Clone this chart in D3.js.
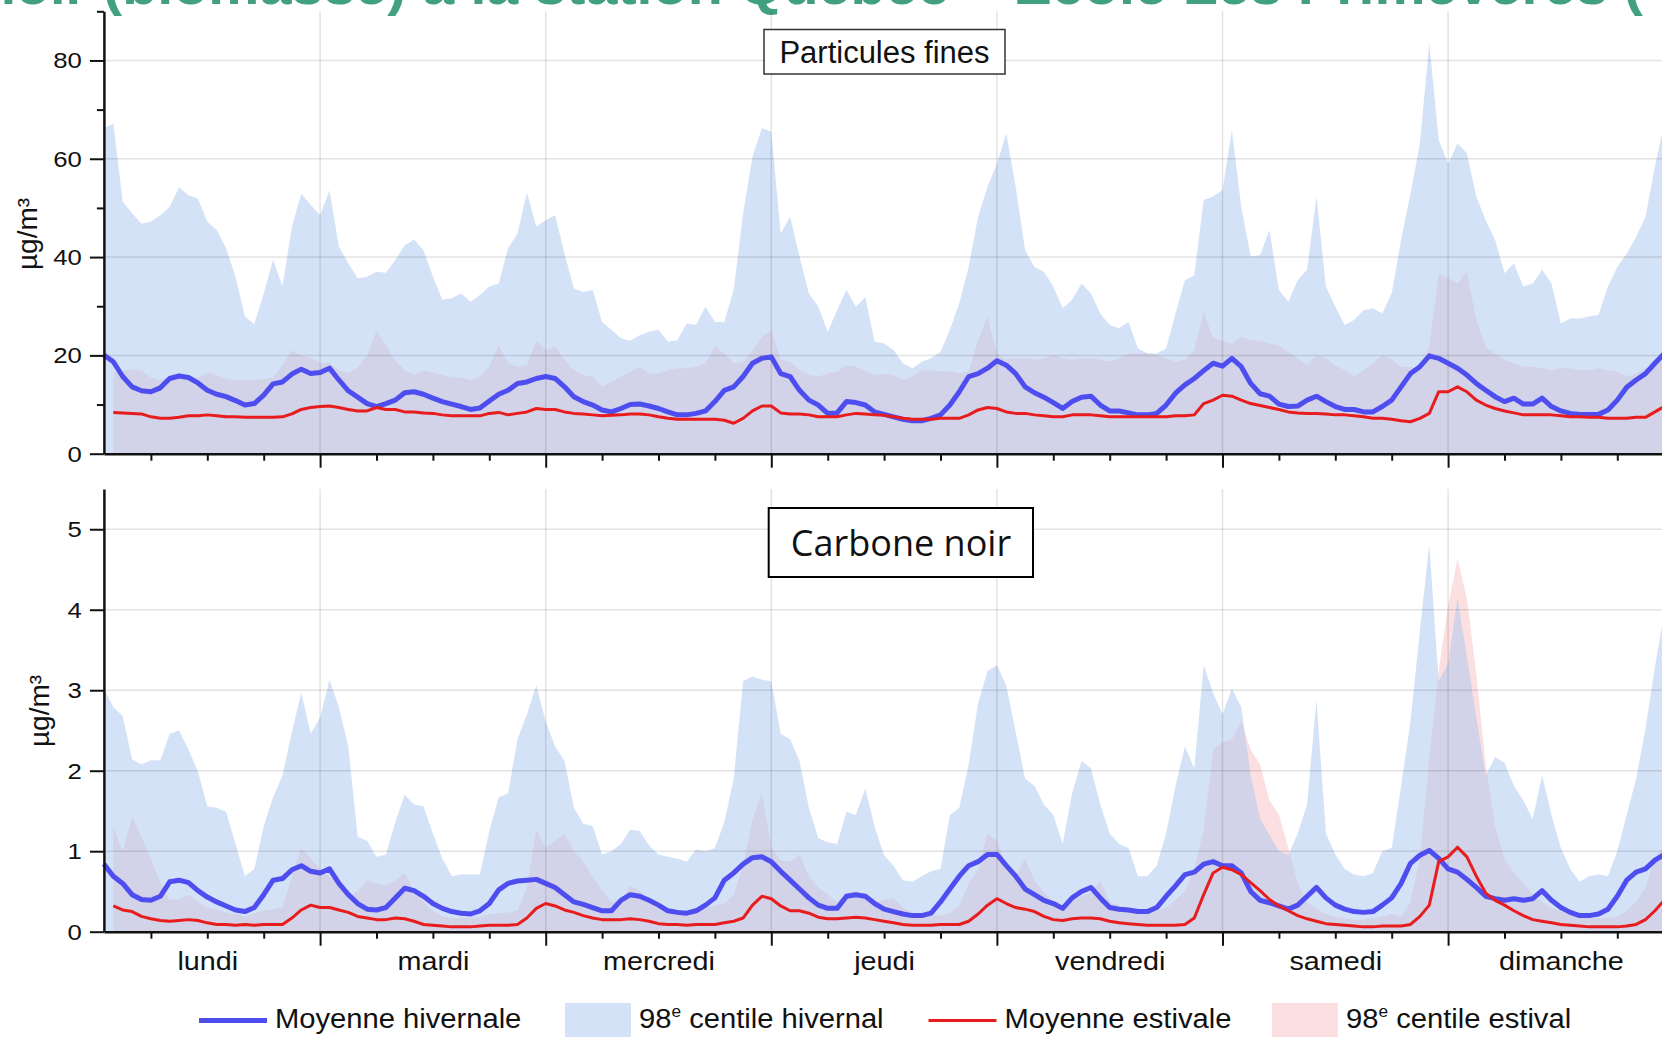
<!DOCTYPE html>
<html>
<head>
<meta charset="utf-8">
<script src="https://cdnjs.cloudflare.com/ajax/libs/d3/7.8.5/d3.min.js"></script>
<style>
  body { margin: 0; background: #fff; overflow: hidden; }
  svg { display: block; }
</style>
</head>
<body>
<script>
// hourly profile, hour 1 .. 167 of the week (monday 01h first)
var hours = d3.range(1, 168);
var days = ["lundi", "mardi", "mercredi", "jeudi", "vendredi", "samedi", "dimanche"];
var dayMid = [12, 36, 60, 84, 108, 132, 156];
var dayEdge = [24, 48, 72, 96, 120, 144, 168];

// Particules fines (µg/m3)
var pmHiv98 = [
  66.2, 67.2, 51.3, 48.9, 46.8, 47.2, 48.5, 50.2, 54.2, 52.6, 51.9, 47.2, 45.5, 41.8, 36, 27.9, 26.4, 32.6, 39.4, 34, 46.2, 52.9, 50.6, 48.5,
  53.6, 42.1, 38.7, 35.7, 36, 37, 36.8, 39.4, 42.4, 43.5, 41.4, 36, 31.3, 31.6, 32.6, 30.9, 32.3, 34, 34.6, 41.8, 44.8, 53.1, 46.2, 47.5,
  48.5, 40.7, 33.6, 32.9, 33.3, 26.8, 25.2, 23.5, 23, 24.1, 24.8, 25.2, 22.8, 23.1, 26.5, 26.2, 29.9, 26.8, 26.8, 33.3, 48.9, 60.4, 66.2, 65.5,
  44.8, 48.2, 40.1, 32.6, 29.9, 24.8, 29.2, 33.3, 29.9, 31.9, 22.8, 22.4, 21.1, 18.4, 17.4, 18.7, 19.4, 20.7, 25.2, 30.6, 38, 48.2, 54.3, 59,
  65.2, 54.3, 41.4, 38, 37, 34, 29.6, 31.3, 34.6, 32.6, 28.5, 26.2, 25.5, 26.8, 21.4, 20.4, 20.4, 21.4, 28.5, 35.3, 36.3, 51.6, 52.3, 53.6,
  65.8, 50.2, 40.1, 40.4, 45.5, 33.3, 30.9, 35.3, 37.4, 52.3, 34, 29.9, 26.2, 27.2, 29.2, 29.6, 28.5, 32.6, 43.5, 52.9, 63.1, 83.5, 63.8, 59,
  63.1, 61.1, 52.3, 47.5, 43.5, 36.7, 38.7, 34, 34.6, 37.4, 34.6, 26.5, 27.5, 27.5, 27.9, 28.2, 34, 38, 40.7, 44.1, 48.2, 58.4, 67.2
];
var pmHivMoy = [
  20.1, 18.7, 15.7, 13.6, 12.8, 12.6, 13.4, 15.3, 15.8, 15.5, 14.4, 12.9, 12.1, 11.6, 10.8, 9.9, 10.2, 11.9, 14.2, 14.6, 16.2, 17.2, 16.3, 16.5,
  17.4, 15, 12.8, 11.5, 10.2, 9.6, 10.2, 10.9, 12.4, 12.6, 12.1, 11.3, 10.6, 10.1, 9.6, 9, 9.3, 10.7, 12.1, 12.9, 14.3, 14.6, 15.3, 15.7,
  15.3, 13.6, 11.6, 10.6, 9.9, 8.9, 8.5, 9.2, 10, 10.1, 9.7, 9.2, 8.5, 7.9, 7.9, 8.2, 8.7, 10.6, 12.9, 13.6, 15.7, 18.4, 19.4, 19.7,
  16.3, 15.7, 12.9, 10.9, 9.9, 8.2, 8.3, 10.6, 10.4, 9.9, 8.5, 8, 7.5, 7, 6.7, 6.7, 7.2, 7.9, 9.9, 12.6, 15.7, 16.3, 17.4, 18.9,
  18, 16.3, 13.6, 12.4, 11.5, 10.4, 9.2, 10.6, 11.5, 11.7, 9.9, 8.7, 8.7, 8.3, 7.9, 7.9, 8.2, 9.9, 12.3, 14, 15.3, 16.9, 18.4, 17.8,
  19.4, 17.7, 14.3, 12.2, 11.7, 10.1, 9.6, 9.7, 10.9, 11.7, 10.6, 9.6, 9, 9, 8.5, 8.5, 9.6, 10.9, 13.6, 16.3, 17.7, 19.9, 19.4, 18.4,
  17.4, 16, 14.3, 12.9, 11.6, 10.6, 11.3, 10.1, 10.1, 11.3, 9.6, 8.7, 8.2, 8, 8, 8, 8.9, 10.9, 13.5, 15, 16.3, 18.4, 20.4
];
var pmEstMoy = [
  null, 8.4, 8.3, 8.2, 8.1, 7.5, 7.2, 7.2, 7.4, 7.7, 7.7, 7.9, 7.7, 7.5, 7.5, 7.4, 7.4, 7.4, 7.4, 7.5, 8.1, 9, 9.4, 9.6,
  9.7, 9.4, 9, 8.7, 8.7, 9.4, 9, 9, 8.5, 8.5, 8.3, 8.2, 7.9, 7.7, 7.7, 7.7, 7.7, 8.2, 8.4, 7.9, 8.2, 8.5, 9.2, 9,
  9, 8.5, 8.2, 8.1, 7.9, 7.7, 7.8, 7.9, 8.1, 8.1, 7.9, 7.5, 7.2, 7, 7, 7, 7, 7, 6.8, 6.2, 7.2, 8.7, 9.7, 9.7,
  8.3, 8.1, 8.1, 7.9, 7.5, 7.5, 7.5, 7.9, 8.2, 8.1, 7.9, 7.8, 7.5, 7.2, 7, 7, 7, 7.2, 7.2, 7.2, 7.9, 8.9, 9.4, 9.2,
  8.5, 8.2, 8.2, 7.9, 7.7, 7.5, 7.5, 7.9, 7.9, 7.9, 7.7, 7.5, 7.5, 7.5, 7.5, 7.5, 7.5, 7.5, 7.7, 7.7, 7.9, 10.2, 10.9, 11.9,
  11.7, 10.9, 10.2, 9.8, 9.4, 9, 8.5, 8.3, 8.2, 8.2, 8.1, 7.9, 7.9, 7.7, 7.5, 7.2, 7.2, 7, 6.7, 6.5, 7.2, 8.2, 12.6, 12.6,
  13.6, 12.6, 10.9, 9.9, 9.2, 8.7, 8.3, 7.9, 7.9, 7.9, 7.9, 7.7, 7.5, 7.5, 7.4, 7.4, 7.2, 7.2, 7.2, 7.4, 7.4, 8.5, 9.6
];
var pmEst98 = [
  null, 16.5, 16.8, 17.2, 17, 15.5, 15, 15.5, 15.3, 15, 15.5, 16.5, 16, 15.3, 15, 15, 15, 15.2, 15.5, 18, 21, 20, 19.5, 18.5,
  18.5, 17, 16.5, 17.5, 20, 25, 22, 19, 17, 16, 17, 16.5, 16, 15.5, 15.5, 15, 15.7, 17.7, 22.1, 18.4, 17.7, 18, 23.1, 21.1,
  21.8, 19.1, 17, 16, 15.7, 13.6, 14.6, 15.7, 16.7, 17.7, 16.3, 16.3, 17, 17.4, 17.4, 17.7, 18.4, 21.8, 20.4, 18.4, 18.7, 21.1, 23.8, 25.2,
  19.1, 18.7, 17, 16, 15.7, 16.3, 16.7, 18, 17.7, 16.7, 16, 16.2, 16, 15, 15.7, 17, 17, 16.7, 16.7, 16.3, 16.7, 23.1, 27.9, 20.4,
  19.1, 19.4, 19.4, 19.1, 19.4, 20.1, 19.4, 19.1, 19.4, 19.4, 19.1, 18.7, 19.4, 20.4, 20.4, 20.5, 20.1, 19.4, 18.7, 19.1, 21.1, 28.9, 23.5, 23.1,
  22.4, 23.8, 23.1, 23, 22.4, 22, 20.7, 19.4, 18, 20.1, 19.4, 18, 17, 15.7, 17, 18.4, 20.1, 19.1, 17.7, 17.7, 17, 21.8, 36.7, 35.7,
  34.6, 37, 27.2, 21.8, 20.4, 19.1, 18.4, 17.7, 17.7, 17.4, 17, 17.4, 17.4, 17, 17, 17.4, 17, 16.7, 15.7, 16.3, 17.4, 18.4, 19.1
];

// Carbone noir (µg/m3)
var bcHiv98 = [
  3.02, 2.79, 2.68, 2.14, 2.08, 2.13, 2.13, 2.46, 2.5, 2.26, 1.99, 1.56, 1.54, 1.49, 1.09, 0.69, 0.78, 1.31, 1.67, 1.94, 2.48, 2.97, 2.46, 2.66,
  3.13, 2.79, 2.3, 1.18, 1.13, 0.93, 0.96, 1.36, 1.7, 1.58, 1.56, 1.22, 0.91, 0.69, 0.71, 0.71, 0.71, 1.25, 1.67, 1.72, 2.39, 2.7, 3.06, 2.61,
  2.3, 2.12, 1.54, 1.34, 1.31, 0.96, 1, 1.09, 1.27, 1.25, 1.07, 0.96, 0.93, 0.91, 0.87, 1.02, 1, 1.04, 1.36, 1.9, 3.11, 3.17, 3.13, 3.11,
  2.46, 2.39, 2.12, 1.54, 1.16, 1.11, 1.09, 1.49, 1.45, 1.78, 1.3, 0.95, 0.82, 0.64, 0.62, 0.69, 0.75, 0.78, 1.45, 1.54, 2.08, 2.84, 3.24, 3.31,
  3.06, 2.48, 1.9, 1.81, 1.58, 1.45, 1.09, 1.72, 2.12, 2.03, 1.58, 1.22, 1.09, 1.04, 0.69, 0.69, 0.82, 1.22, 1.81, 2.3, 2.03, 3.31, 2.97, 2.7,
  3.02, 2.79, 1.94, 1.4, 1.2, 1, 0.95, 1.22, 1.58, 2.88, 1.22, 0.96, 0.78, 0.71, 0.69, 0.73, 1, 1.04, 1.81, 2.61, 3.74, 4.81, 3.11, 3.33,
  4.14, 3.42, 2.66, 1.94, 2.17, 2.1, 1.81, 1.63, 1.4, 1.94, 1.45, 1.04, 0.78, 0.62, 0.69, 0.71, 0.69, 1, 1.45, 1.9, 2.52, 3.29, 3.96
];
var bcHivMoy = [
  0.84, 0.69, 0.6, 0.46, 0.4, 0.39, 0.44, 0.62, 0.64, 0.61, 0.51, 0.43, 0.37, 0.32, 0.27, 0.25, 0.3, 0.46, 0.64, 0.66, 0.77, 0.82, 0.75, 0.73,
  0.78, 0.6, 0.46, 0.35, 0.28, 0.27, 0.3, 0.42, 0.54, 0.51, 0.44, 0.35, 0.29, 0.25, 0.23, 0.22, 0.26, 0.35, 0.52, 0.6, 0.63, 0.64, 0.65, 0.6,
  0.55, 0.46, 0.37, 0.34, 0.3, 0.26, 0.26, 0.39, 0.46, 0.44, 0.39, 0.33, 0.26, 0.24, 0.23, 0.26, 0.33, 0.42, 0.64, 0.73, 0.84, 0.92, 0.93, 0.87,
  0.75, 0.64, 0.53, 0.42, 0.33, 0.29, 0.29, 0.44, 0.46, 0.44, 0.35, 0.28, 0.25, 0.22, 0.2, 0.2, 0.23, 0.37, 0.53, 0.69, 0.82, 0.87, 0.96, 0.96,
  0.82, 0.69, 0.53, 0.46, 0.39, 0.35, 0.29, 0.42, 0.5, 0.55, 0.42, 0.3, 0.28, 0.27, 0.25, 0.25, 0.3, 0.44, 0.57, 0.71, 0.74, 0.84, 0.87, 0.82,
  0.82, 0.73, 0.5, 0.39, 0.36, 0.32, 0.28, 0.33, 0.44, 0.55, 0.42, 0.33, 0.28, 0.25, 0.24, 0.25, 0.33, 0.42, 0.6, 0.85, 0.95, 1.01, 0.91, 0.78,
  0.74, 0.65, 0.55, 0.44, 0.41, 0.39, 0.41, 0.39, 0.41, 0.51, 0.39, 0.3, 0.24, 0.2, 0.2, 0.22, 0.28, 0.44, 0.64, 0.74, 0.78, 0.89, 0.96
];
var bcEstMoy = [
  null, 0.32, 0.27, 0.25, 0.19, 0.16, 0.14, 0.13, 0.14, 0.15, 0.14, 0.11, 0.09, 0.09, 0.08, 0.09, 0.08, 0.09, 0.09, 0.09, 0.17, 0.27, 0.33, 0.3,
  0.3, 0.27, 0.24, 0.19, 0.17, 0.15, 0.15, 0.17, 0.16, 0.13, 0.09, 0.08, 0.07, 0.06, 0.06, 0.06, 0.07, 0.08, 0.08, 0.08, 0.09, 0.17, 0.29, 0.35,
  0.32, 0.27, 0.24, 0.2, 0.17, 0.15, 0.15, 0.15, 0.16, 0.15, 0.13, 0.1, 0.09, 0.09, 0.08, 0.09, 0.09, 0.09, 0.11, 0.13, 0.17, 0.33, 0.44, 0.41,
  0.32, 0.26, 0.26, 0.23, 0.18, 0.16, 0.16, 0.17, 0.18, 0.17, 0.15, 0.13, 0.11, 0.09, 0.08, 0.08, 0.08, 0.09, 0.09, 0.09, 0.13, 0.22, 0.33, 0.41,
  0.35, 0.3, 0.28, 0.25, 0.19, 0.15, 0.14, 0.16, 0.17, 0.17, 0.16, 0.13, 0.11, 0.1, 0.09, 0.08, 0.08, 0.08, 0.08, 0.09, 0.17, 0.46, 0.73, 0.8,
  0.77, 0.71, 0.61, 0.51, 0.4, 0.32, 0.26, 0.2, 0.16, 0.13, 0.1, 0.09, 0.08, 0.07, 0.06, 0.06, 0.07, 0.07, 0.07, 0.09, 0.19, 0.33, 0.87, 0.93,
  1.05, 0.93, 0.69, 0.48, 0.39, 0.33, 0.26, 0.2, 0.15, 0.13, 0.11, 0.09, 0.08, 0.07, 0.06, 0.06, 0.06, 0.06, 0.07, 0.09, 0.15, 0.26, 0.39
];
var bcEst98 = [
  null, 1.31, 1.0, 1.43, 1.18, 0.91, 0.6, 0.4, 0.4, 0.46, 0.37, 0.3, 0.28, 0.24, 0.22, 0.19, 0.23, 0.26, 0.28, 0.3, 0.69, 1.04, 0.91, 0.78,
  0.69, 0.57, 0.42, 0.51, 0.64, 0.6, 0.57, 0.64, 0.73, 0.51, 0.37, 0.26, 0.19, 0.17, 0.17, 0.17, 0.19, 0.22, 0.23, 0.24, 0.26, 0.55, 1.27, 1.04,
  1.13, 1.22, 1.0, 0.87, 0.69, 0.51, 0.37, 0.39, 0.57, 0.51, 0.39, 0.3, 0.26, 0.25, 0.25, 0.26, 0.3, 0.33, 0.35, 0.46, 0.82, 1.4, 1.72, 1.04,
  0.89, 0.87, 0.96, 0.69, 0.55, 0.46, 0.37, 0.48, 0.51, 0.44, 0.37, 0.4, 0.42, 0.3, 0.24, 0.22, 0.2, 0.2, 0.23, 0.33, 0.6, 0.78, 1.22, 1.13,
  0.82, 0.69, 0.91, 0.64, 0.48, 0.37, 0.3, 0.37, 0.44, 0.48, 0.64, 0.37, 0.33, 0.3, 0.26, 0.25, 0.25, 0.3, 0.39, 0.51, 0.78, 1.27, 2.26, 2.35,
  2.39, 2.61, 2.26, 2.08, 1.63, 1.45, 1.04, 0.6, 0.37, 0.28, 0.22, 0.19, 0.17, 0.15, 0.15, 0.17, 0.19, 0.22, 0.19, 0.37, 0.91, 2.17, 3.24, 4.05,
  4.63, 4.14, 3.2, 2.08, 1.31, 0.91, 0.73, 0.6, 0.46, 0.37, 0.3, 0.25, 0.22, 0.19, 0.17, 0.17, 0.17, 0.19, 0.26, 0.37, 0.55, 0.91, 1.09
];

var pmTicks = [0, 20, 40, 60, 80];
var pmMinor = [10, 30, 50, 70, 90];
var bcTicks = [0, 1, 2, 3, 4, 5];

var W = 1662, H = 1037;
var sans = "'Liberation Sans', Arial, sans-serif";
var blue = "#4e4ef0", red = "#e81c1c";
var blueFill = "#a9c6ef", pinkFill = "#fbdfe1";

var svg = d3.select("body").append("svg")
    .attr("width", W)
    .attr("height", H)
    .style("font-family", sans);

// x : hour of the week, 9.4 px per hour
var x = d3.scaleLinear().domain([1, 168]).range([103.9, 1673.7]);

// stretch text horizontally (the original chart is a bit wider than high)
function stretch(sel, sx) {
  sel.each(function() {
    var t = d3.select(this);
    var x0 = +t.attr("x") || 0;
    t.attr("x", x0 / sx).attr("transform", "scale(" + sx + ",1)");
  });
}

function toPts(arr) {
  return arr.map(function(v, i) { return {h: hours[i], v: v}; });
}

// green heading, mostly above the frame
var titleFont = 56;
svg.append("text")
    .attr("x", 103 - 0.28 * titleFont)
    .attr("y", 4)
    .attr("text-anchor", "end")
    .attr("font-size", titleFont)
    .attr("font-weight", "bold")
    .attr("fill", "#41a07e")
    .text("noir");
svg.append("text")
    .attr("x", 103)
    .attr("y", 4)
    .attr("textLength", 1540)
    .attr("lengthAdjust", "spacingAndGlyphs")
    .attr("font-size", titleFont)
    .attr("font-weight", "bold")
    .attr("fill", "#41a07e")
    .text("(biomasse) à la station Québec – École Les Primevères (");

var panels = [
  {y: d3.scaleLinear().domain([0, 90]).range([453.7, 11.3]),
   ticks: pmTicks, minor: pmMinor,
   hiv98: pmHiv98, hivMoy: pmHivMoy, est98: pmEst98, estMoy: pmEstMoy,
   unitX: 37, unitY: 234, days: false},
  {y: d3.scaleLinear().domain([0, 5.5]).range([931.7, 489]),
   ticks: bcTicks, minor: [],
   hiv98: bcHiv98, hivMoy: bcHivMoy, est98: bcEst98, estMoy: bcEstMoy,
   unitX: 49, unitY: 711, days: true}
];

panels.forEach(function(p) {
  var y = p.y;
  var g = svg.append("g");
  var y0 = y.range()[0], y1 = y.range()[1];

  var area = d3.area()
      .defined(function(d) { return d.v != null; })
      .x(function(d) { return x(d.h); })
      .y0(y(0))
      .y1(function(d) { return y(d.v); });
  var line = d3.line()
      .defined(function(d) { return d.v != null; })
      .x(function(d) { return x(d.h); })
      .y(function(d) { return y(d.v); });

  // 98e centile estival, then hivernal (semi-transparent) on top
  g.append("path").datum(toPts(p.est98))
      .attr("d", area).attr("fill", pinkFill);
  g.append("path").datum(toPts(p.hiv98))
      .attr("d", area).attr("fill", blueFill).attr("fill-opacity", 0.5);

  // grid
  g.selectAll(".hgrid").data(p.ticks.filter(function(t) { return t > 0; }))
    .enter().append("line")
      .attr("x1", x(1)).attr("x2", W)
      .attr("y1", function(d) { return y(d); })
      .attr("y2", function(d) { return y(d); })
      .attr("stroke", "#000").attr("stroke-opacity", 0.11).attr("stroke-width", 1.5);
  g.selectAll(".vgrid").data(dayEdge)
    .enter().append("line")
      .attr("x1", function(d) { return x(d); })
      .attr("x2", function(d) { return x(d); })
      .attr("y1", y1).attr("y2", y0)
      .attr("stroke", "#000").attr("stroke-opacity", 0.11).attr("stroke-width", 1.5);

  // moyennes
  g.append("path").datum(toPts(p.hivMoy))
      .attr("d", line).attr("fill", "none")
      .attr("stroke", blue).attr("stroke-width", 5)
      .attr("stroke-linejoin", "round");
  g.append("path").datum(toPts(p.estMoy))
      .attr("d", line).attr("fill", "none")
      .attr("stroke", red).attr("stroke-width", 3)
      .attr("stroke-linejoin", "round");

  // x axis: ticks every 6 h, longer at midnight
  var gx = g.append("g")
      .attr("transform", "translate(0," + y0 + ")")
      .call(d3.axisBottom(x).tickValues(d3.range(6, 168, 6))
        .tickSize(7).tickSizeOuter(0).tickFormat(""));
  gx.selectAll(".tick line")
      .filter(function(d) { return d % 24 === 0; })
      .attr("y2", 14);
  gx.select(".domain").attr("stroke", "#111").attr("stroke-width", 2.5);
  gx.selectAll(".tick line").attr("stroke", "#111").attr("stroke-width", 2);

  if (p.days) {
    var gd = g.append("g")
        .attr("transform", "translate(0," + y0 + ")")
        .call(d3.axisBottom(x).tickValues(dayMid).tickSize(0)
          .tickFormat(function(d, i) { return days[i]; }));
    gd.select(".domain").remove();
    gd.selectAll("text")
        .attr("y", 38).attr("dy", null)
        .attr("font-size", 25).attr("font-family", sans).attr("fill", "#111");
    stretch(gd.selectAll("text"), 1.15);
  }

  // y axis
  var gy = g.append("g")
      .attr("transform", "translate(" + x(1) + ",0)")
      .call(d3.axisLeft(y).tickValues(p.ticks).tickSize(14)
        .tickSizeOuter(0).tickPadding(8).tickFormat(d3.format("d")));
  gy.select(".domain").attr("stroke", "#111").attr("stroke-width", 2.5);
  gy.selectAll(".tick line").attr("stroke", "#111").attr("stroke-width", 2);
  gy.selectAll("text")
      .attr("font-size", 23).attr("font-family", sans).attr("fill", "#111");
  stretch(gy.selectAll("text"), 1.12);

  if (p.minor.length) {
    var gm = g.append("g")
        .attr("transform", "translate(" + x(1) + ",0)")
        .call(d3.axisLeft(y).tickValues(p.minor).tickSize(7).tickFormat(""));
    gm.select(".domain").remove();
    gm.selectAll(".tick line").attr("stroke", "#111").attr("stroke-width", 2);
  }

  // unit
  svg.append("text")
      .attr("transform", "translate(" + p.unitX + "," + p.unitY + ") rotate(-90)")
      .attr("text-anchor", "middle")
      .attr("font-size", 28)
      .attr("fill", "#111")
      .text("µg/m³");
});

// panel titles
svg.append("rect")
    .attr("x", 764).attr("y", 29.5).attr("width", 241).attr("height", 44.5)
    .attr("fill", "#fff").attr("stroke", "#333").attr("stroke-width", 1.5);
svg.append("text")
    .attr("x", 884.5).attr("y", 63)
    .attr("text-anchor", "middle")
    .attr("font-size", 31).attr("fill", "#111")
    .text("Particules fines");

svg.append("rect")
    .attr("x", 768.7).attr("y", 508).attr("width", 264.3).attr("height", 69)
    .attr("fill", "#fff").attr("stroke", "#000").attr("stroke-width", 2);
svg.append("text")
    .attr("x", 901).attr("y", 556)
    .attr("text-anchor", "middle")
    .attr("font-family", "'Open Sans', sans-serif")
    .attr("font-size", 36).attr("fill", "#111")
    .text("Carbone noir");

// legend
var legendItems = [
  {kind: "line", color: blue, width: 5, label: "Moyenne hivernale"},
  {kind: "rect", color: blueFill, opacity: 0.5, pre: "98", label: " centile hivernal"},
  {kind: "line", color: red, width: 3, label: "Moyenne estivale"},
  {kind: "rect", color: pinkFill, opacity: 1, pre: "98", label: " centile estival"}
];
var legendX = [199, 565, 928.5, 1272];

var lg = svg.append("g");
legendItems.forEach(function(it, i) {
  var lx = legendX[i];
  var tx;
  if (it.kind === "line") {
    lg.append("line")
        .attr("x1", lx).attr("x2", lx + 68)
        .attr("y1", 1020.5).attr("y2", 1020.5)
        .attr("stroke", it.color).attr("stroke-width", it.width);
    tx = lx + 76;
  } else {
    lg.append("rect")
        .attr("x", lx).attr("y", 1003).attr("width", 66).attr("height", 40)
        .attr("fill", it.color).attr("fill-opacity", it.opacity);
    tx = lx + 74;
  }
  var t = lg.append("text")
      .attr("x", tx).attr("y", 1028)
      .attr("font-size", 27).attr("fill", "#111");
  if (it.pre) {
    t.append("tspan").text(it.pre);
    t.append("tspan").attr("font-size", 16).attr("dy", -11).text("e");
    t.append("tspan").attr("dy", 11).text(it.label);
  } else {
    t.text(it.label);
  }
  stretch(t, 1.08);
});
</script>
</body>
</html>
